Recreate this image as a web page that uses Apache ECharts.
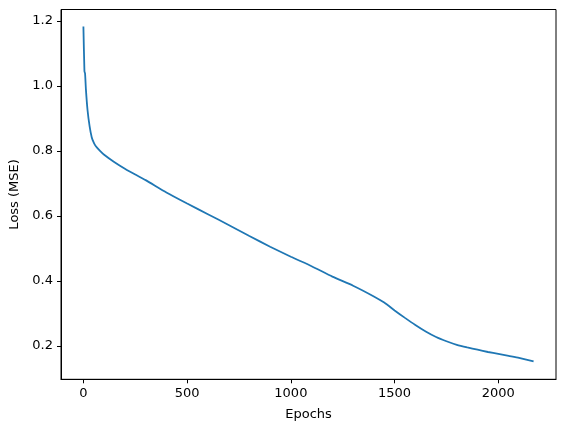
<!DOCTYPE html>
<html>
<head>
<meta charset="utf-8">
<script src="https://cdn.jsdelivr.net/npm/echarts@6/dist/echarts.min.js"></script>
<style>
  html, body { margin: 0; padding: 0; background: #fff; }
  #chart { width: 567px; height: 432px; }
</style>
</head>
<body>
<div id="chart"></div>
<script>
'use strict';

// values
var epochs = [0, 5, 8, 12, 20, 30, 40, 50, 60, 80, 100, 150, 200, 250, 300, 400, 500,
  600, 700, 800, 900, 1000, 1100, 1200, 1300, 1400, 1450, 1500, 1550, 1600, 1650,
  1700, 1750, 1800, 1850, 1900, 1950, 2000, 2050, 2100, 2170];
var loss = [1.183, 1.045, 1.038, 0.99, 0.925, 0.875, 0.842, 0.825, 0.814, 0.800, 0.788,
  0.765, 0.745, 0.727, 0.710, 0.672, 0.638, 0.605, 0.572, 0.538, 0.505, 0.474, 0.445,
  0.413, 0.385, 0.352, 0.333, 0.309, 0.286, 0.264, 0.244, 0.227, 0.214, 0.203, 0.195,
  0.188, 0.181, 0.175, 0.169, 0.163, 0.152];
var xTicks = [0, 500, 1000, 1500, 2000];
var yTicks = [0.2, 0.4, 0.6, 0.8, 1.0, 1.2];

var chart = echarts.init(document.getElementById('chart'));

var points = [];
for (var i = 0; i < epochs.length; i++) {
  points.push([epochs[i], loss[i]]);
}

var font = 'DejaVu Sans';

var option = {
  backgroundColor: '#fff',
  animation: false,
  grid: {
    left: 61, right: 11, top: 9.5, bottom: 52.7,
    show: true,
    borderColor: '#000',
    borderWidth: 1,
    containLabel: false
  },
  xAxis: {
    type: 'value',
    min: -108,
    max: 2278,
    name: 'Epochs',
    nameLocation: 'middle',
    nameGap: 29,
    nameTextStyle: { color: '#000', fontSize: 13, fontFamily: font },
    axisLine: { show: true, onZero: false, lineStyle: { color: '#000', width: 1 } },
    axisTick: {
      show: true, length: 4, lineStyle: { color: '#000', width: 1 },
      customValues: xTicks
    },
    axisLabel: {
      color: '#000', fontSize: 13, fontFamily: font, margin: 8,
      customValues: xTicks,
      formatter: function (v) { return String(v); }
    },
    splitLine: { show: false }
  },
  yAxis: {
    type: 'value',
    min: 0.097,
    max: 1.235,
    name: 'Loss (MSE)',
    nameLocation: 'middle',
    nameGap: 38,
    nameTextStyle: { color: '#000', fontSize: 13, fontFamily: font },
    axisLine: { show: true, onZero: false, lineStyle: { color: '#000', width: 1 } },
    axisTick: {
      show: true, length: 4, lineStyle: { color: '#000', width: 1 },
      customValues: yTicks
    },
    axisLabel: {
      color: '#000', fontSize: 13, fontFamily: font, margin: 8,
      customValues: yTicks,
      formatter: function (v) { return v.toFixed(1); }
    },
    splitLine: { show: false }
  },
  series: [{
    type: 'line',
    data: points,
    showSymbol: false,
    smooth: 0.2,
    lineStyle: { color: '#1f77b4', width: 1.8 }
  }]
};

chart.setOption(option);
</script>
</body>
</html>
